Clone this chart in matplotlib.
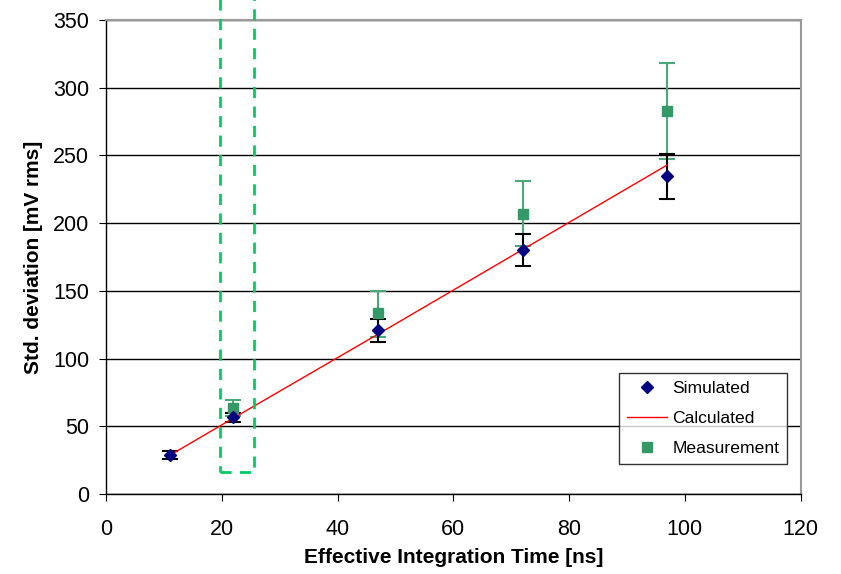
import numpy as np
import matplotlib.pyplot as plt
from matplotlib.patches import Rectangle

plt.rcParams['font.family'] = ['Liberation Sans', 'DejaVu Sans']

# data
t_int = [11, 22, 47, 72, 97]
sim = [29, 56.5, 121, 180, 235]
sim_err_lo = [3, 3, 8.5, 12, 17]
sim_err_hi = [3, 3, 8, 12, 16]
calc = [28.5, 56, 118, 180.5, 243]
meas = [None, 63.5, 133.5, 207, 283]
meas_err_lo = [0, 6, 17.5, 24, 36]
meas_err_hi = [0, 6, 16, 24, 35]

mx = t_int[1:]
my = meas[1:]

fig = plt.figure(figsize=(8.41, 5.74), dpi=100)
ax = fig.add_axes([0.126, 0.1394, 0.826, 0.826])

ax.set_xlim(0, 120)
ax.set_ylim(0, 350)
ax.set_xticks(np.arange(0, 121, 20))
ax.set_yticks(np.arange(0, 351, 50))
ax.yaxis.grid(True, color='black', linewidth=1)
ax.set_axisbelow(True)

ax.errorbar(mx, my, yerr=[meas_err_lo[1:], meas_err_hi[1:]], fmt='none',
            ecolor='#4aa87a', elinewidth=1.5, capsize=6, capthick=1.5, zorder=2)
ax.errorbar(t_int, sim, yerr=[sim_err_lo, sim_err_hi], fmt='none',
            ecolor='black', elinewidth=1.5, capsize=6, capthick=1.5, zorder=2)
ax.plot(t_int, sim, linestyle='none', marker='D', markersize=5.8,
        color='#000080', label='Simulated', zorder=4)
ax.plot(t_int, calc, color='red', linewidth=1, label='Calculated', zorder=3)
ax.plot(mx, my, linestyle='none', marker='s', markersize=7,
        color='#339966', label='Measurement', zorder=3)

rect = Rectangle((19.7, 16), 5.9, 400, fill=False, edgecolor='#00cc66',
                 linestyle=(0, (4, 3)), linewidth=2, clip_on=False, zorder=5)
ax.add_patch(rect)

for s in ['top', 'right']:
    ax.spines[s].set_color('#999999')
    ax.spines[s].set_linewidth(1.5)
for s in ['left', 'bottom']:
    ax.spines[s].set_color('black')
    ax.spines[s].set_linewidth(1)

ax.tick_params(direction='out', length=5, labelsize=15.5)
ax.tick_params(axis='y', pad=7)
ax.tick_params(axis='x', pad=13)
ax.set_xlabel('Effective Integration Time [ns]', fontsize=15, fontweight='bold', labelpad=6)
ax.set_ylabel('Std. deviation [mV rms]', fontsize=15, fontweight='bold', labelpad=7)

leg = ax.legend(loc='lower right', bbox_to_anchor=(0.981, 0.063), borderaxespad=0,
                fontsize=12.6, frameon=True, fancybox=False, edgecolor='black',
                handlelength=2.3, handletextpad=0.3, borderpad=0.45, labelspacing=0.85)
leg.get_frame().set_linewidth(1)

fig.savefig('out.png', dpi=100)
